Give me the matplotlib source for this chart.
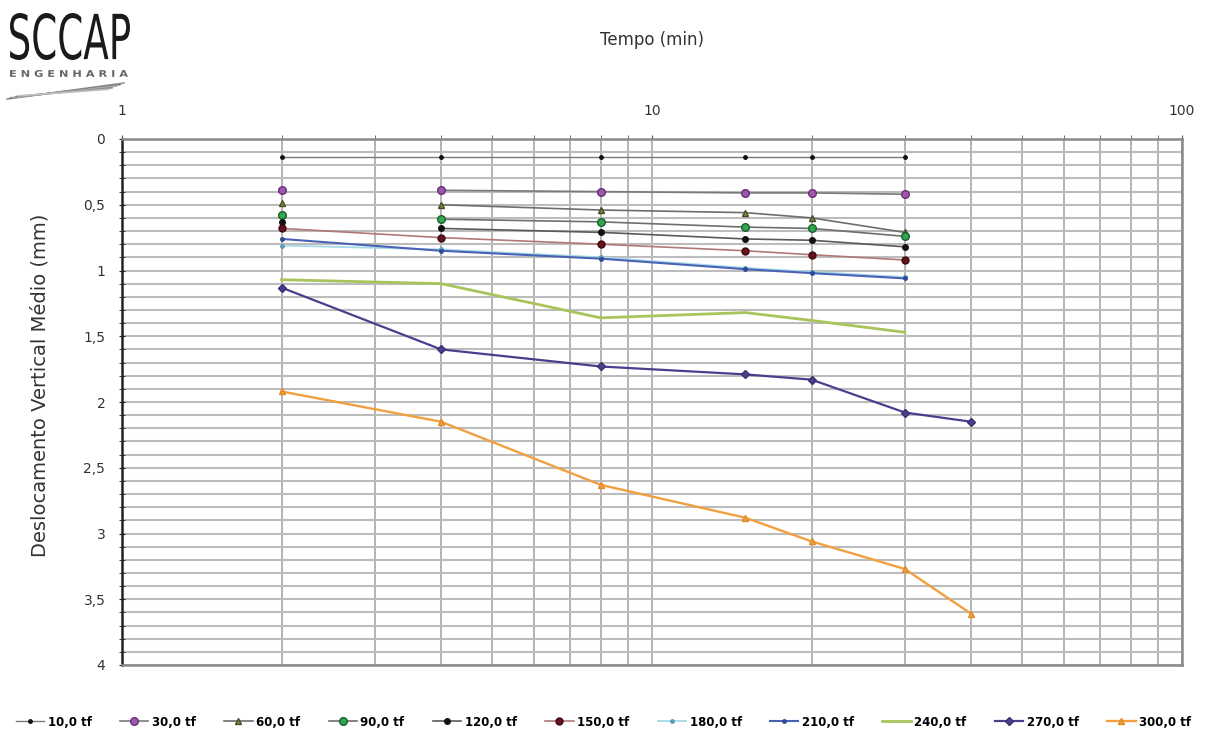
import matplotlib
matplotlib.use('Agg')
import matplotlib.pyplot as plt
import numpy as np
from matplotlib.ticker import FixedLocator, FuncFormatter, MultipleLocator, NullFormatter
from matplotlib.textpath import TextPath
from matplotlib.patches import PathPatch
from matplotlib.font_manager import FontProperties
from matplotlib.transforms import Affine2D

# tempos de leitura (min)
times_a = [2, 4, 8, 15, 20, 30]
times_b = [2, 4, 8, 15, 20, 30, 40]

# deslocamento vertical medio (mm) por estagio de carga
d10 = [0.14, 0.14, 0.14, 0.14, 0.14, 0.14]
d30 = [0.39, 0.39, 0.40, 0.41, 0.41, 0.42]
d60 = [0.49, 0.50, 0.54, 0.56, 0.60, 0.71]
d90 = [0.58, 0.61, 0.63, 0.67, 0.68, 0.74]
d120 = [0.63, 0.68, 0.71, 0.76, 0.77, 0.82]
d150 = [0.68, 0.75, 0.80, 0.85, 0.88, 0.92]
d180 = [0.81, 0.84, 0.90, 0.98, 1.01, 1.05]
d210 = [0.76, 0.85, 0.91, 0.99, 1.02, 1.06]
d240 = [1.07, 1.10, 1.36, 1.32, 1.38, 1.47]
d270 = [1.13, 1.60, 1.73, 1.79, 1.83, 2.08, 2.15]
d300 = [1.92, 2.15, 2.63, 2.88, 3.06, 3.27, 3.61]

labels = ['10,0 tf', '30,0 tf', '60,0 tf', '90,0 tf', '120,0 tf', '150,0 tf',
          '180,0 tf', '210,0 tf', '240,0 tf', '270,0 tf', '300,0 tf']
series = [d10, d30, d60, d90, d120, d150, d180, d210, d240, d270, d300]
xs = [times_a] * 9 + [times_b, times_b]

# (line colour, marker, face, edge, size, lw, line starts at index)
styles = [
    ('#7a7a7a', 'o', '#111111', '#111111', 2.5, 1.0, 0),
    ('#7a7a7a', 'o', '#9b59a6', '#6a2d78', 5.5, 1.2, 1),
    ('#6e6e6e', '^', '#7d8a3a', '#4a4a2a', 4.5, 1.2, 1),
    ('#6e6e6e', 'o', '#2fa84f', '#1d5e2c', 5.5, 1.2, 1),
    ('#5a5a5a', 'o', '#111111', '#111111', 4.0, 1.2, 1),
    ('#b07878', 'o', '#6a0f1c', '#3a0a10', 5.0, 1.2, 0),
    ('#a6d8e6', 'o', '#5aa0b8', '#5aa0b8', 2.5, 1.3, 0),
    ('#4a62b4', 'o', '#2e4a9a', '#2e4a9a', 2.5, 1.5, 0),
    ('#a9c45a', None, None, None, 0, 2.0, 0),
    ('#4a3f8c', 'D', '#4a3f8c', '#3a3070', 4.0, 1.6, 0),
    ('#f0a040', '^', '#f0a040', '#e08a2a', 5.0, 1.7, 0),
]

fig = plt.figure(figsize=(12.07, 7.33), dpi=100)
ax = fig.add_axes([122 / 1207, 68 / 733, 1060 / 1207, 526 / 733])

ax.set_xscale('log')
ax.set_xlim(1, 100)
ax.set_ylim(4, 0)

ax.xaxis.tick_top()
ax.xaxis.set_major_locator(FixedLocator([1, 10, 100]))
ax.xaxis.set_major_formatter(FuncFormatter(lambda v, p: f'{v:g}'))
ax.xaxis.set_minor_locator(FixedLocator([2, 3, 4, 5, 6, 7, 8, 9, 20, 30, 40, 50, 60, 70, 80, 90]))
ax.xaxis.set_minor_formatter(NullFormatter())
ax.yaxis.set_major_locator(MultipleLocator(0.5))
ax.yaxis.set_minor_locator(MultipleLocator(0.1))
ax.yaxis.set_major_formatter(FuncFormatter(lambda v, p: f'{v:g}'.replace('.', ',')))

ax.tick_params(axis='x', which='both', top=True, bottom=False, length=3, color='#555555',
               labelsize=10, pad=12, labelcolor='#333333')
ax.tick_params(axis='y', which='both', direction='inout', length=4, color='#222222',
               labelsize=10, pad=10, labelcolor='#333333')

ax.grid(True, axis='y', which='both', color='#bcbcbc', lw=1.5)
ax.grid(True, axis='x', which='both', color='#a8a8a8', lw=1.2)
ax.set_axisbelow(True)

for side in ['top', 'right', 'bottom']:
    ax.spines[side].set_color('#8a8a8a')
    ax.spines[side].set_linewidth(1.8)
ax.spines['left'].set_color('#222222')
ax.spines['left'].set_linewidth(1.8)

for x, y, lab, st in zip(xs, series, labels, styles):
    lc, mk, mf, me, ms, lw, start = st
    if start > 0:
        ax.plot(x[:start], y[:start], ls='none', marker=mk, mfc=mf, mec=me, ms=ms, zorder=3)
    ax.plot(x[start:], y[start:], color=lc, lw=lw, marker=mk, mfc=mf, mec=me, ms=ms,
            label=lab, zorder=3)

fig.text(652 / 1207, 1 - 40 / 733, 'Tempo (min)', ha='center', va='center',
         fontsize=12, color='#333333')
fig.text(40 / 1207, 1 - 385 / 733, 'Deslocamento Vertical Médio (mm)', ha='center',
         va='center', rotation=90, fontsize=14, color='#333333')

handles, labs = ax.get_legend_handles_labels()
fig.legend(handles, labs, loc='center', bbox_to_anchor=(0.5, 1 - 722 / 733), ncol=11,
           frameon=False, handlelength=2.4, handletextpad=0.3,
           columnspacing=2.4, prop={'size': 8.5, 'weight': 'bold'})

# logo SCCAP
lax = fig.add_axes([0, 1 - 110 / 733, 140 / 1207, 110 / 733])
lax.set_xlim(0, 140)
lax.set_ylim(110, 0)
lax.axis('off')


def put_text(axl, s, x0, y_base, w, h, color, weight='normal'):
    tp = TextPath((0, 0), s, size=1, prop=FontProperties(family='DejaVu Sans', weight=weight))
    bb = tp.get_extents()
    tr = Affine2D().translate(-bb.x0, -bb.y0).scale(w / bb.width, -h / bb.height).translate(x0, y_base)
    axl.add_patch(PathPatch(tr.transform_path(tp), fc=color, ec='none'))


put_text(lax, 'SCCAP', 10, 60, 120, 47, '#1a1a1a')
put_text(lax, 'E N G E N H A R I A', 10, 77, 118, 7, '#666666', weight='bold')
for i, g in enumerate(['#9a9a9a', '#7a7a7a', '#b0b0b0', '#8a8a8a', '#c0c0c0']):
    lax.plot([7 + i * 3, 124 - i * 4], [99 - i * 0.8, 83 + i * 1.6], color=g, lw=1.2)

fig.savefig('out.png', dpi=100)
